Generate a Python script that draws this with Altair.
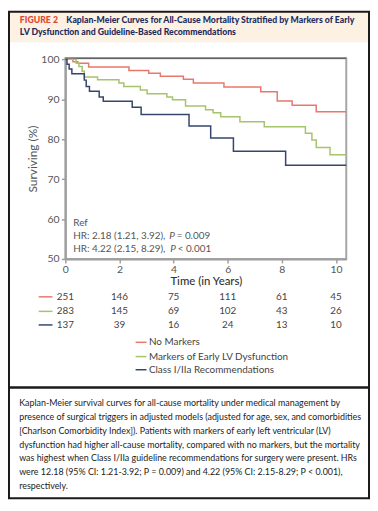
import altair as alt
import pandas as pd

# ---------------- data ----------------
groups = ["No Markers", "Markers of Early LV Dysfunction", "Class I/IIa Recommendations"]
colors = ["#e9786c", "#a6c46c", "#34476b"]

red_t = [0, 0.28, 0.46, 0.86, 2.35, 3.08, 3.51, 4.36, 4.73, 5.86, 7.22, 7.83, 8.38, 9.27, 10.38]
red_s = [100, 99.4, 99.0, 98.1, 97.2, 96.5, 95.8, 95.0, 94.1, 93.1, 91.9, 89.6, 88.5, 86.9, 86.9]

green_t = [0, 0.40, 0.50, 0.62, 0.70, 1.19, 1.98, 2.16, 2.77, 3.02, 3.75, 3.96, 4.44, 5.18, 5.46,
           5.74, 6.45, 7.35, 8.87, 9.11, 9.27, 9.78, 10.38]
green_s = [100, 99.0, 98.2, 97.0, 95.6, 94.9, 94.1, 93.2, 92.3, 91.4, 90.6, 89.9, 88.3, 87.4, 86.6,
           85.6, 84.4, 83.1, 81.5, 79.8, 77.9, 76.1, 76.1]

blue_t = [0, 0.06, 0.14, 0.24, 0.70, 0.77, 0.89, 1.25, 1.40, 2.47, 2.80, 4.57, 5.37, 6.21, 8.14, 10.38]
blue_s = [100, 98.8, 97.6, 96.4, 94.8, 93.2, 92.0, 90.6, 89.5, 88.0, 86.2, 83.3, 80.3, 77.0, 73.5, 73.5]

risk_years = [0, 2, 4, 6, 8, 10]
risk_red = [251, 146, 75, 111, 61, 45]
risk_green = [283, 145, 69, 102, 43, 26]
risk_blue = [137, 39, 16, 24, 13, 10]

y_ticks = [50, 60, 70, 80, 90, 100]
x_ticks = [0, 2, 4, 6, 8, 10]

title_1 = "Kaplan-Meier Curves for All-Cause Mortality Stratified by Markers of Early"
title_2 = "LV Dysfunction and Guideline-Based Recommendations"
caption = [
    "Kaplan-Meier survival curves for all-cause mortality under medical management by",
    "presence of surgical triggers in adjusted models (adjusted for age, sex, and comorbidities",
    "[Charlson Comorbidity Index]). Patients with markers of early left ventricular (LV)",
    "dysfunction had higher all-cause mortality, compared with no markers, but the mortality",
    "was highest when Class I/IIa guideline recommendations for surgery were present. HRs",
    "were 12.18 (95% CI: 1.21-3.92; P = 0.009) and 4.22 (95% CI: 2.15-8.29; P < 0.001),",
    "respectively.",
]

# ---------------- layout ----------------
W, H = 284, 203
FONT = "Lato"
TFONT = "Lato"
GRAY = "#555555"

one = pd.DataFrame({"a": [0]})

rows = []
for g, ts, ss in zip(groups, [red_t, green_t, blue_t], [red_s, green_s, blue_s]):
    for t, s in zip(ts, ss):
        rows.append({"t": t, "s": s, "g": g})
curves = pd.DataFrame(rows)

x_enc = alt.X("t:Q",
              scale=alt.Scale(domain=[0, 10.38], nice=False, zero=False),
              axis=alt.Axis(values=x_ticks, title="Time (in Years)", labelFlush=False,
                            labelPadding=2, titleY=23, titleBaseline="middle",
                            titleColor="#333333", titleFontWeight=500, titleFontSize=11.5))

lines = alt.Chart(curves).mark_line(interpolate="step-after", strokeWidth=1.5).encode(
    x=x_enc,
    y=alt.Y("s:Q", scale=alt.Scale(domain=[50, 100.3], nice=False, zero=False),
            axis=alt.Axis(values=y_ticks, title="Surviving (%)", labelPadding=2.5,
                          titleX=-33, titleY=H / 2, titleAlign="center", titleBaseline="middle",
                          titleFontWeight="normal", titleColor=GRAY, titleFontSize=12)),
    color=alt.Color("g:N", scale=alt.Scale(domain=groups, range=colors), legend=None),
    detail="g:N",
)


def txt(px, py, s, size, color, weight="normal", style="normal", align="left", font=FONT):
    return alt.Chart(one).mark_text(text=s, align=align, baseline="middle", font=font,
                                    fontSize=size, fontWeight=weight, fontStyle=style,
                                    color=color).encode(x=alt.value(px), y=alt.value(py))


def hrule(x1, x2, py, color, width):
    return alt.Chart(one).mark_rule(color=color, strokeWidth=width).encode(
        x=alt.value(x1), x2=alt.value(x2), y=alt.value(py))


layers = []
# header band and frame
layers.append(alt.Chart(one).mark_rect(fill="#fcf1e3").encode(
    x=alt.value(-57), x2=alt.value(307), y=alt.value(-47), y2=alt.value(-16)))
layers.append(alt.Chart(one).mark_rect(fillOpacity=0, stroke="#1a1a1a", strokeWidth=2).encode(
    x=alt.value(-57), x2=alt.value(307), y=alt.value(-47), y2=alt.value(445)))
layers.append(hrule(-57, 307, 333, "#1a1a1a", 2.5))
# plot top border
layers.append(hrule(0, W, 0, "#444444", 1))
layers.append(lines)

# header text
layers.append(txt(-46, -39, "FIGURE 2", 8.8, "#e2462f", weight=900, font=TFONT))
layers.append(txt(1, -39, title_1, 8.8, "#1f2d5c", weight=900, font=TFONT))
layers.append(txt(-46, -26, title_2, 8.8, "#1f2d5c", weight=900, font=TFONT))

# in-plot annotation
layers.append(txt(8, 166.7, "Ref", 10, GRAY))
layers.append(txt(8, 179.7, "HR: 2.18 (1.21, 3.92),", 10, GRAY))
layers.append(txt(105, 179.7, "P", 10, GRAY, style="italic"))
layers.append(txt(112.5, 179.7, "= 0.009", 10, GRAY))
layers.append(txt(8, 193, "HR: 4.22 (2.15, 8.29),", 10, GRAY))
layers.append(txt(106, 193, "P", 10, GRAY, style="italic"))
layers.append(txt(113.5, 193, "< 0.001", 10, GRAY))

# numbers at risk
risk_rows_py = [241.3, 256, 269.7]
for vals, col, py in zip([risk_red, risk_green, risk_blue], colors, risk_rows_py):
    df = pd.DataFrame({"t": risk_years, "n": vals})
    layers.append(alt.Chart(df).mark_text(font=FONT, fontSize=10, color="#444444",
                                          baseline="middle", align="center").encode(
        x=x_enc, y=alt.value(py), text="n:Q"))
    layers.append(hrule(-27, -13, py, col, 1.5))

# legend
legend_py = [287.3, 301.7, 315]
for g, col, py in zip(groups, colors, legend_py):
    layers.append(hrule(71, 82, py, col, 1.5))
    layers.append(txt(84.5, py, g, 10, "#444444"))

# caption
for i, line in enumerate(caption):
    layers.append(txt(-46.7, 349 + i * 13.9, line, 9.0, "#222222"))

chart = alt.layer(*layers).properties(
    width=W, height=H,
    padding={"left": 58, "top": 48, "right": 24, "bottom": 243},
    autosize=alt.AutoSizeParams(type="none"),
).configure_view(stroke="#a6a6a6", strokeWidth=2).configure_axis(
    grid=False, domainColor="#9e9e9e", domainWidth=2, tickColor="#9e9e9e", tickSize=4,
    tickWidth=1.5, labelFont=FONT, labelFontSize=10.5, labelColor=GRAY,
    titleFont=FONT, titleFontSize=10.5,
)

chart.save("out.html", embed_options={"renderer": "svg", "actions": False})
